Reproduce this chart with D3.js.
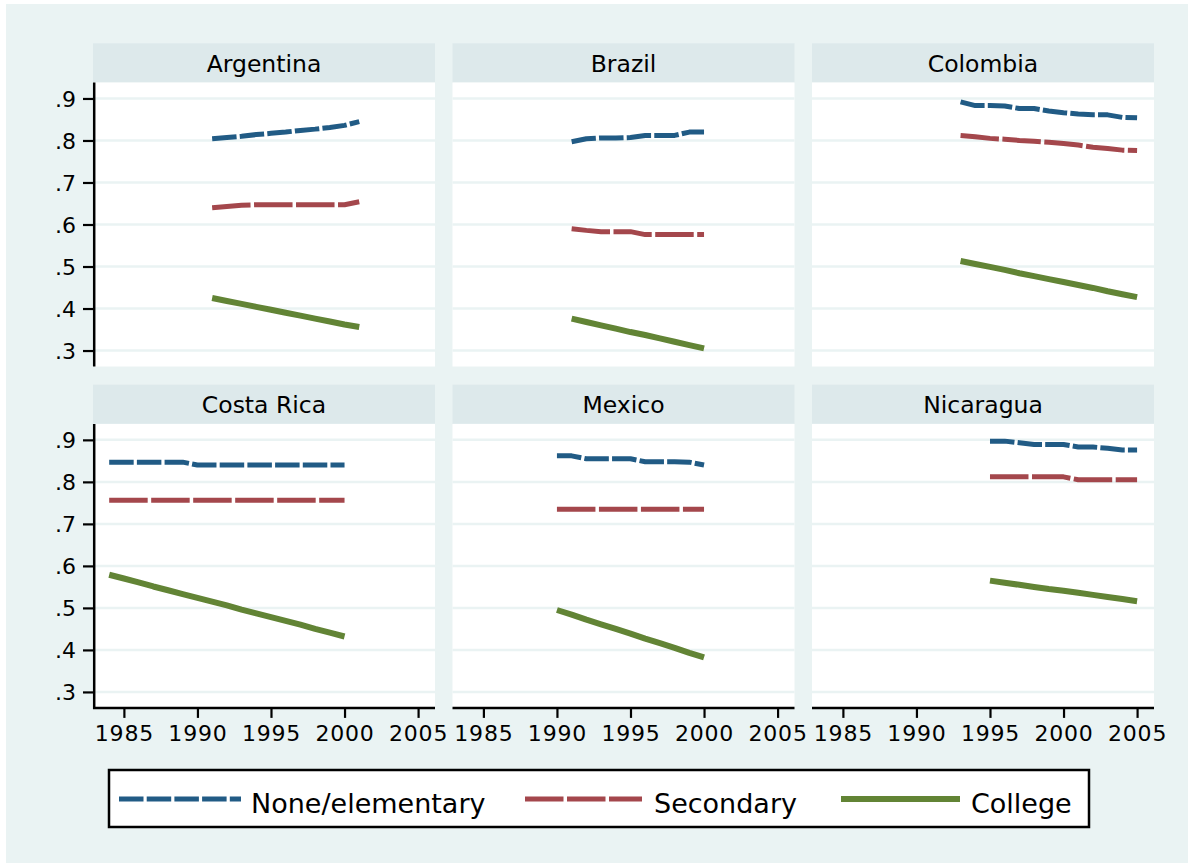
<!DOCTYPE html>
<html>
<head>
<meta charset="utf-8">
<script src="https://cdn.jsdelivr.net/npm/d3@7"></script>
<style>
  html, body { margin: 0; padding: 0; background: #ffffff; }
  svg { display: block; font-family: "DejaVu Sans", sans-serif; }
</style>
</head>
<body>
<svg id="chart" width="1188" height="863"></svg>
<script>
// Share of workers by education level, by country and year
const countries = ["Argentina", "Brazil", "Colombia", "Costa Rica", "Mexico", "Nicaragua"];
const levels = ["None/elementary", "Secondary", "College"];
const yTicks = [0.3, 0.4, 0.5, 0.6, 0.7, 0.8, 0.9];
const yTickLabels = [".3", ".4", ".5", ".6", ".7", ".8", ".9"];
const xTicks = [1985, 1990, 1995, 2000, 2005];

const argentinaYears = [1991, 1992, 1993, 1994, 1995, 1996, 1997, 1998, 1999, 2000, 2001];
const argentinaNone  = [0.804, 0.807, 0.810, 0.814, 0.817, 0.820, 0.824, 0.827, 0.831, 0.836, 0.845];
const argentinaSec   = [0.640, 0.643, 0.646, 0.647, 0.647, 0.647, 0.647, 0.647, 0.647, 0.647, 0.654];
const argentinaCol   = [0.425, 0.418, 0.411, 0.404, 0.397, 0.390, 0.383, 0.376, 0.369, 0.362, 0.356];

const brazilYears = [1991, 1992, 1993, 1994, 1995, 1996, 1997, 1998, 1999, 2000];
const brazilNone  = [0.797, 0.804, 0.806, 0.806, 0.807, 0.812, 0.812, 0.812, 0.820, 0.820];
const brazilSec   = [0.590, 0.586, 0.583, 0.583, 0.583, 0.576, 0.576, 0.576, 0.576, 0.576];
const brazilCol   = [0.376, 0.368, 0.360, 0.352, 0.344, 0.337, 0.329, 0.321, 0.313, 0.305];

const colombiaYears = [1993, 1994, 1995, 1996, 1997, 1998, 1999, 2000, 2001, 2002, 2003, 2004, 2005];
const colombiaNone  = [0.892, 0.883, 0.883, 0.882, 0.876, 0.876, 0.870, 0.866, 0.863, 0.861, 0.861, 0.855, 0.854];
const colombiaSec   = [0.812, 0.809, 0.805, 0.803, 0.800, 0.798, 0.796, 0.793, 0.789, 0.784, 0.781, 0.777, 0.776];
const colombiaCol   = [0.513, 0.506, 0.499, 0.492, 0.484, 0.477, 0.470, 0.463, 0.456, 0.449, 0.441, 0.434, 0.427];

const costaRicaYears = [1984, 1985, 1986, 1987, 1988, 1989, 1990, 1991, 1992, 1993, 1994, 1995, 1996, 1997, 1998, 1999, 2000];
const costaRicaNone  = [0.847, 0.847, 0.847, 0.847, 0.847, 0.847, 0.840, 0.840, 0.840, 0.840, 0.840, 0.840, 0.840, 0.840, 0.840, 0.840, 0.840];
const costaRicaSec   = [0.756, 0.756, 0.756, 0.756, 0.756, 0.756, 0.756, 0.756, 0.756, 0.756, 0.756, 0.756, 0.756, 0.756, 0.756, 0.756, 0.756];
const costaRicaCol   = [0.579, 0.570, 0.561, 0.551, 0.542, 0.533, 0.524, 0.515, 0.506, 0.496, 0.487, 0.478, 0.469, 0.460, 0.450, 0.441, 0.432];

const mexicoYears = [1990, 1991, 1992, 1993, 1994, 1995, 1996, 1997, 1998, 1999, 2000];
const mexicoNone  = [0.862, 0.862, 0.855, 0.855, 0.855, 0.855, 0.848, 0.848, 0.848, 0.847, 0.840];
const mexicoSec   = [0.735, 0.735, 0.735, 0.735, 0.735, 0.735, 0.735, 0.735, 0.735, 0.735, 0.735];
const mexicoCol   = [0.495, 0.484, 0.472, 0.461, 0.450, 0.439, 0.427, 0.416, 0.405, 0.393, 0.382];

const nicaraguaYears = [1995, 1996, 1997, 1998, 1999, 2000, 2001, 2002, 2003, 2004, 2005];
const nicaraguaNone  = [0.897, 0.897, 0.893, 0.889, 0.889, 0.889, 0.883, 0.883, 0.880, 0.876, 0.876];
const nicaraguaSec   = [0.812, 0.812, 0.812, 0.812, 0.812, 0.812, 0.805, 0.805, 0.805, 0.805, 0.805];
const nicaraguaCol   = [0.565, 0.560, 0.555, 0.550, 0.545, 0.541, 0.536, 0.531, 0.526, 0.521, 0.516];

const panelData = [
  { years: argentinaYears, series: [argentinaNone, argentinaSec, argentinaCol] },
  { years: brazilYears,    series: [brazilNone, brazilSec, brazilCol] },
  { years: colombiaYears,  series: [colombiaNone, colombiaSec, colombiaCol] },
  { years: costaRicaYears, series: [costaRicaNone, costaRicaSec, costaRicaCol] },
  { years: mexicoYears,    series: [mexicoNone, mexicoSec, mexicoCol] },
  { years: nicaraguaYears, series: [nicaraguaNone, nicaraguaSec, nicaraguaCol] }
];

// Styling
const bgColor = "#eaf3f3";
const stripColor = "#dde9eb";
const gridColor = "#eaf3f3";
const lineStyles = [
  { color: "#215b85", width: 5, dash: "24.5,3.2" },
  { color: "#a4474c", width: 5, dash: "38.5,3.5" },
  { color: "#628435", width: 6, dash: null }
];

// Layout
const colLeft = [93, 452.5, 812];
const panelW = 342;
const stripTop = [43.3, 384.7];
const stripH = 39.2;
const plotH = 284;

const svg = d3.select("#chart");

svg.append("rect")
  .attr("x", 6).attr("y", 4)
  .attr("width", 1182).attr("height", 859)
  .attr("fill", bgColor);

const x = d3.scaleLinear().domain([1982.9, 2006.15]).range([0, panelW]);
const y = d3.scaleLinear().domain([0.262, 0.938]).range([plotH, 0]);

const lineGen = d3.line()
  .x(d => x(d[0]))
  .y(d => y(d[1]));

countries.forEach((name, i) => {
  const col = i % 3, row = Math.floor(i / 3);
  const left = colLeft[col];
  const top = stripTop[row];
  const plotTop = top + stripH;

  // Title strip
  svg.append("rect")
    .attr("x", left).attr("y", top)
    .attr("width", panelW).attr("height", stripH)
    .attr("fill", stripColor);
  svg.append("text")
    .attr("x", left + panelW / 2).attr("y", top + 28.5)
    .attr("text-anchor", "middle")
    .attr("font-size", 23.5)
    .attr("fill", "#000")
    .text(name);

  const g = svg.append("g").attr("transform", `translate(${left},${plotTop})`);

  // Plot region
  g.append("rect")
    .attr("x", 0).attr("y", 0)
    .attr("width", panelW).attr("height", plotH)
    .attr("fill", "#ffffff");

  // Horizontal grid
  g.selectAll(".grid").data(yTicks).enter().append("line")
    .attr("x1", 0).attr("x2", panelW)
    .attr("y1", d => y(d)).attr("y2", d => y(d))
    .attr("stroke", gridColor).attr("stroke-width", 2.5);

  // Series
  const d = panelData[i];
  d.series.forEach((vals, s) => {
    const pts = d.years.map((yr, k) => [yr, vals[k]]);
    const st = lineStyles[s];
    g.append("path")
      .datum(pts)
      .attr("d", lineGen)
      .attr("fill", "none")
      .attr("stroke", st.color)
      .attr("stroke-width", st.width)
      .attr("stroke-linejoin", "round")
      .attr("stroke-dasharray", st.dash);
  });

  // Left axis on the first column
  if (col === 0) {
    const ya = d3.axisLeft(y).tickValues(yTicks)
      .tickFormat((v, k) => yTickLabels[k])
      .tickSize(10).tickPadding(7);
    const ag = g.append("g").call(ya);
    ag.select(".domain").remove();
    ag.selectAll(".tick line").attr("stroke", "#000").attr("stroke-width", 2.2);
    ag.selectAll(".tick text")
      .attr("font-size", 22).attr("font-family", "DejaVu Sans, sans-serif")
      .attr("fill", "#000").attr("dy", "0.36em");
    g.append("line")
      .attr("x1", 1.2).attr("x2", 1.2)
      .attr("y1", 0).attr("y2", row === 1 ? plotH + 1 : plotH)
      .attr("stroke", "#000").attr("stroke-width", 2.5);
  }

  // Bottom axis on the lower row
  if (row === 1) {
    const xa = d3.axisBottom(x).tickValues(xTicks)
      .tickFormat(d3.format("d"))
      .tickSize(10).tickPadding(6);
    const bg = g.append("g").attr("transform", `translate(0,${plotH})`).call(xa);
    bg.select(".domain").remove();
    bg.selectAll(".tick line").attr("stroke", "#000").attr("stroke-width", 2.2);
    bg.selectAll(".tick text")
      .attr("font-size", 22).attr("font-family", "DejaVu Sans, sans-serif")
      .attr("letter-spacing", "0.8px")
      .attr("fill", "#000").attr("dy", "0.78em");
    g.append("line")
      .attr("x1", 0).attr("x2", panelW)
      .attr("y1", plotH).attr("y2", plotH)
      .attr("stroke", "#000").attr("stroke-width", 2.5);
  }
});

// Legend
const legend = svg.append("g");
legend.append("rect")
  .attr("x", 109).attr("y", 770)
  .attr("width", 980).attr("height", 57)
  .attr("fill", "#ffffff")
  .attr("stroke", "#000").attr("stroke-width", 2.5);

const legendLineX = [119, 525, 841];
const legendLineW = [122, 117, 119];
const legendTextX = [251, 654, 971];
levels.forEach((lab, i) => {
  const st = lineStyles[i];
  legend.append("line")
    .attr("x1", legendLineX[i]).attr("x2", legendLineX[i] + legendLineW[i])
    .attr("y1", 799).attr("y2", 799)
    .attr("stroke", st.color).attr("stroke-width", st.width)
    .attr("stroke-dasharray", st.dash);
  legend.append("text")
    .attr("x", legendTextX[i]).attr("y", 812.5)
    .attr("font-size", 27)
    .attr("fill", "#000")
    .text(lab);
});
</script>
</body>
</html>
